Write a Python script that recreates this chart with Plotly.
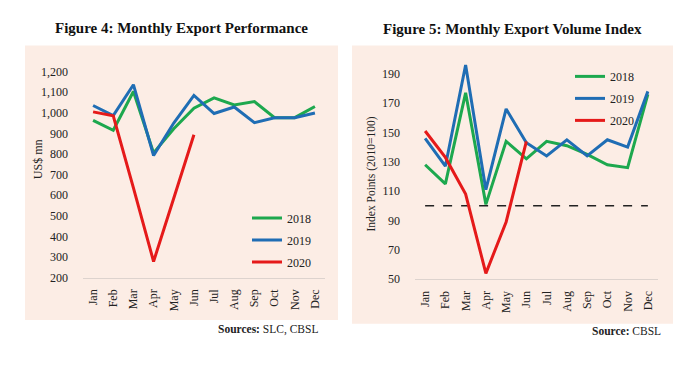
import plotly.graph_objects as go

months = ["Jan", "Feb", "Mar", "Apr", "May", "Jun", "Jul", "Aug", "Sep", "Oct", "Nov", "Dec"]

# Figure 4: Monthly export performance (US$ mn)
exp_2018 = [963, 915, 1103, 805, 922, 1022, 1072, 1038, 1054, 976, 976, 1030]
exp_2019 = [1035, 986, 1136, 792, 950, 1084, 996, 1028, 952, 976, 976, 999]
exp_2020 = [1004, 985, 635, 278, 585, 893]

# Figure 5: Monthly export volume index (2010=100)
vol_2018 = [128, 115, 177, 101, 144, 132, 144, 141, 135, 128, 126, 176]
vol_2019 = [146, 127, 196, 111, 166, 143, 134, 145, 134, 145, 140, 178]
vol_2020 = [151, 133, 108, 54, 89, 144]
BASE_INDEX = 100

left_yticks = [200, 300, 400, 500, 600, 700, 800, 900, 1000, 1100, 1200]
left_yticklabels = ["200", "300", "400", "500", "600", "700", "800", "900", "1,000", "1,100", "1,200"]
right_yticks = [50, 70, 90, 110, 130, 150, 170, 190]

W, H = 700, 377
FONT = "Liberation Serif"
BG = "#FCEDE5"
colors = {"2018": "#1DA84E", "2019": "#1F6DB4", "2020": "#E51A1A"}


def px(x):
    return x / W


def py(y):
    return 1 - y / H


fig = go.Figure()

series_left = [("2018", exp_2018), ("2019", exp_2019), ("2020", exp_2020)]
series_right = [("2018", vol_2018), ("2019", vol_2019), ("2020", vol_2020)]

for name, vals in series_left:
    fig.add_trace(go.Scatter(
        x=months[:len(vals)], y=vals, mode="lines", name=name,
        line=dict(color=colors[name], width=3), xaxis="x", yaxis="y",
        legend="legend", legendgroup="L" + name))

fig.add_trace(go.Scatter(
    x=months, y=[BASE_INDEX] * len(months), mode="lines", showlegend=False,
    line=dict(color="#222222", width=1.5, dash="dash"), xaxis="x2", yaxis="y2",
    hoverinfo="skip"))

for name, vals in series_right:
    fig.add_trace(go.Scatter(
        x=months[:len(vals)], y=vals, mode="lines", name=name,
        line=dict(color=colors[name], width=3), xaxis="x2", yaxis="y2",
        legend="legend2", legendgroup="R" + name))

tickfont = dict(family=FONT, size=12, color="#222222")

xaxis_common = dict(
    type="category", categoryorder="array", categoryarray=months,
    range=[-0.5, 11.5], tickangle=-90, tickfont=tickfont,
    showgrid=False, zeroline=False, showline=True, linecolor="#DDD3CE",
    linewidth=1, ticks="", ticklabelstandoff=6, fixedrange=True,
)

fig.update_layout(
    width=W, height=H,
    margin=dict(l=0, r=0, t=0, b=0),
    paper_bgcolor="white", plot_bgcolor="rgba(0,0,0,0)",
    showlegend=True,
    xaxis=dict(domain=[px(83), px(325)], anchor="y", **xaxis_common),
    yaxis=dict(domain=[py(281), py(67)], anchor="x", range=[200, 1200],
               tickvals=left_yticks, ticktext=left_yticklabels, tickfont=tickfont,
               showgrid=False, zeroline=False, showline=False, ticks="",
               ticklabelstandoff=14, fixedrange=True),
    xaxis2=dict(domain=[px(415), px(658)], anchor="y2", **xaxis_common),
    yaxis2=dict(domain=[py(282.7), py(54.1)], anchor="x2", range=[50, 200],
                tickvals=right_yticks, tickfont=tickfont,
                showgrid=False, zeroline=False, showline=False, ticks="",
                ticklabelstandoff=14, fixedrange=True),
    legend=dict(x=px(247), y=py(204), xanchor="left", yanchor="top",
                bgcolor="rgba(0,0,0,0)", font=dict(family=FONT, size=12, color="#222222"),
                tracegroupgap=3, itemwidth=30),
    legend2=dict(x=px(570), y=py(57), xanchor="left", yanchor="top",
                 bgcolor="rgba(0,0,0,0)", font=dict(family=FONT, size=12, color="#222222"),
                 tracegroupgap=3, itemwidth=30),
    shapes=[
        dict(type="rect", xref="paper", yref="paper", x0=px(25), x1=px(338),
             y0=py(325), y1=py(40), fillcolor=BG, line=dict(width=0), layer="below"),
        dict(type="rect", xref="paper", yref="paper", x0=px(352), x1=px(673),
             y0=py(329), y1=py(40), fillcolor=BG, line=dict(width=0), layer="below"),
    ],
    annotations=[
        dict(text="<b>Figure 4: Monthly Export Performance</b>", xref="paper", yref="paper",
             x=px(181), y=py(22), xanchor="center", yanchor="middle", showarrow=False,
             font=dict(family=FONT, size=15, color="#111111")),
        dict(text="<b>Figure 5: Monthly Export Volume Index</b>", xref="paper", yref="paper",
             x=px(512), y=py(23), xanchor="center", yanchor="middle", showarrow=False,
             font=dict(family=FONT, size=15, color="#111111")),
        dict(text="US$ mn", xref="paper", yref="paper", x=px(38), y=py(158),
             xanchor="center", yanchor="middle", textangle=-90, showarrow=False,
             font=dict(family=FONT, size=12, color="#222222")),
        dict(text="Index Points (2010=100)", xref="paper", yref="paper", x=px(372), y=py(174),
             xanchor="center", yanchor="middle", textangle=-90, showarrow=False,
             font=dict(family=FONT, size=11.5, color="#222222")),
        dict(text="<b>Sources:</b> SLC, CBSL", xref="paper", yref="paper", x=px(320), y=py(335),
             xanchor="right", yanchor="middle", showarrow=False,
             font=dict(family=FONT, size=11.5, color="#222222")),
        dict(text="<b>Source:</b> CBSL", xref="paper", yref="paper", x=px(663), y=py(337),
             xanchor="right", yanchor="middle", showarrow=False,
             font=dict(family=FONT, size=11.5, color="#222222")),
    ],
)

fig.write_html("out.html", post_script="document.body.style.margin='0';",
               config={"displayModeBar": False})
